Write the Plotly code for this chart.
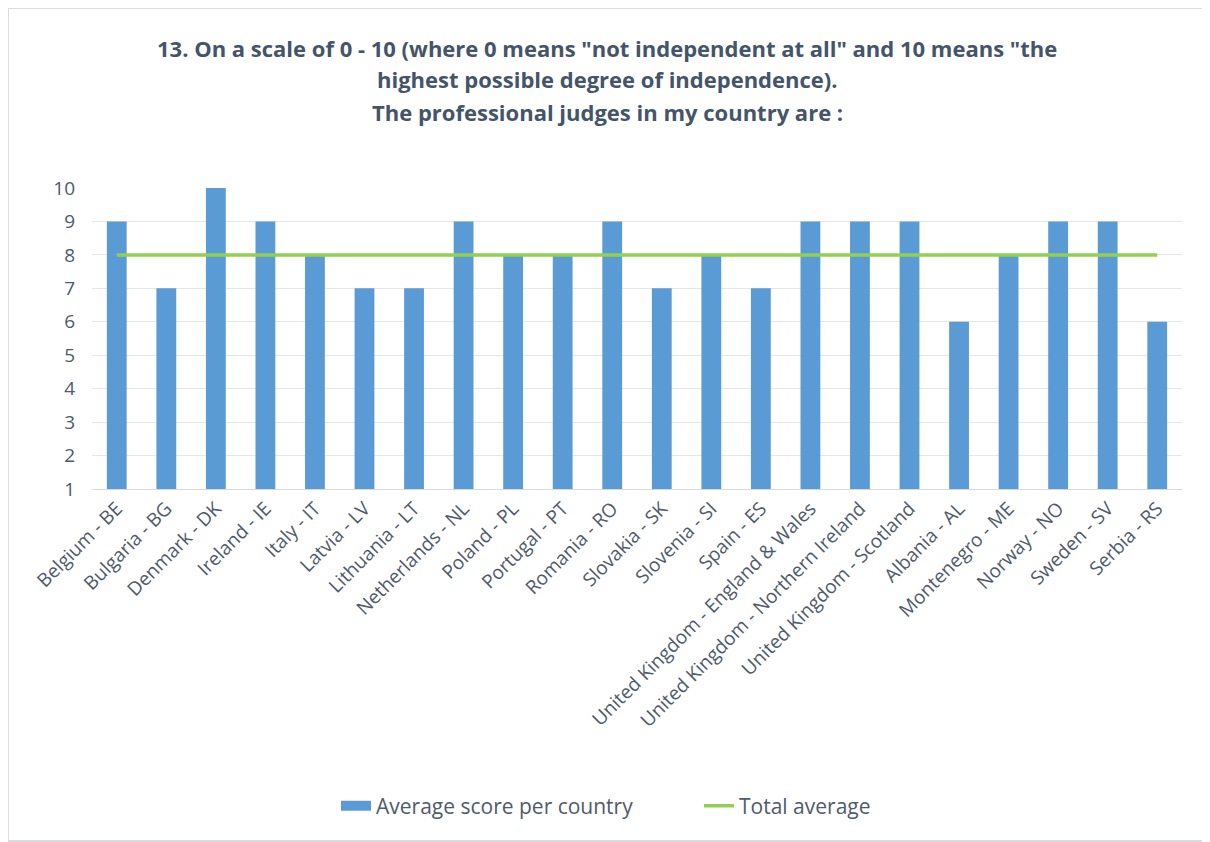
import plotly.graph_objects as go

countries = [
    "Belgium - BE", "Bulgaria - BG", "Denmark - DK", "Ireland - IE", "Italy - IT",
    "Latvia - LV", "Lithuania - LT", "Netherlands - NL", "Poland - PL", "Portugal - PT",
    "Romania - RO", "Slovakia - SK", "Slovenia - SI", "Spain - ES",
    "United Kingdom - England & Wales", "United Kingdom - Northern Ireland",
    "United Kingdom - Scotland", "Albania - AL", "Montenegro - ME", "Norway - NO",
    "Sweden - SV", "Serbia - RS",
]
avg_score = [9, 7, 10, 9, 8, 7, 7, 9, 8, 8, 9, 7, 8, 7, 9, 9, 9, 6, 8, 9, 9, 6]
total_avg = [8] * len(countries)
y_ticks = [1, 2, 3, 4, 5, 6, 7, 8, 9, 10]

title_lines = [
    '13. On a scale of 0 - 10 (where 0 means "not independent at all" and 10 means "the',
    'highest possible degree of independence).',
    'The professional judges in my country are :',
]

text_col = "#4F5A6B"
bar_col = "#5B9BD5"
line_col = "#92D050"

fig = go.Figure()
fig.add_trace(go.Bar(
    x=countries, y=avg_score, name="Average score per country",
    marker=dict(color=bar_col, line=dict(width=0)), showlegend=False,
))
# legend-only entry drawn as a wide swatch
fig.add_trace(go.Scatter(
    x=[None], y=[None], name="Average score per country", mode="lines",
    line=dict(color=bar_col, width=11),
))
fig.add_trace(go.Scatter(
    x=countries, y=total_avg, name="Total average", mode="lines",
    line=dict(color=line_col, width=3.5),
))

OFF = 8  # page body margin
W, H = 1200, 834
ml, mt = 92 - OFF, 188 - OFF
mr = W - (1182 - OFF)
mb = H - (489 - OFF)
pw, ph = W - ml - mr, H - mt - mb

def ypaper(y_screen):
    return (ph - (y_screen - OFF - mt)) / ph

def xpaper(x_screen):
    return (x_screen - OFF - ml) / pw

annotations = []
for txt, yc in zip(title_lines, [48, 79, 112]):
    annotations.append(dict(
        text=f"<b>{txt}</b>", xref="paper", yref="paper",
        x=xpaper(607), y=ypaper(yc), xanchor="center", yanchor="middle",
        showarrow=False, font=dict(family="Open Sans", size=22, color="#44546A"),
    ))

fig.update_layout(
    width=W, height=H,
    margin=dict(l=ml, r=mr, t=mt, b=mb, autoexpand=False),
    paper_bgcolor="white", plot_bgcolor="white",
    bargap=0.6,
    annotations=annotations,
    font=dict(family="Open Sans", color=text_col),
    showlegend=True,
    legend=dict(
        orientation="h", x=xpaper(336), xanchor="left",
        y=ypaper(806), yanchor="middle",
        font=dict(family="Open Sans", size=21, color=text_col),
        traceorder="normal", entrywidth=318, entrywidthmode="pixels",
    ),
    xaxis=dict(
        tickangle=-45, tickfont=dict(size=19, color=text_col),
        showgrid=False, showline=True, linecolor="#D9D9D9", linewidth=1,
        ticks="", automargin=False,
    ),
    yaxis=dict(
        range=[1, 10], tickvals=y_ticks, ticktext=[str(v) for v in y_ticks],
        tickfont=dict(size=19, color=text_col),
        showgrid=True, gridcolor="#E3E6EB", gridwidth=1,
        zeroline=False, showline=False, ticks="", ticklabelstandoff=16,
        automargin=False,
    ),
    shapes=[dict(
        type="rect", xref="paper", yref="paper", layer="below",
        x0=(0 - ml) / pw, x1=(W - 1 - ml) / pw,
        y0=(ph - (H - 1 - mt)) / ph, y1=1 + (mt - 0) / ph,
        line=dict(color="#D9DDE3", width=2), fillcolor="rgba(0,0,0,0)",
    )],
)

fig.write_html("out.html")
